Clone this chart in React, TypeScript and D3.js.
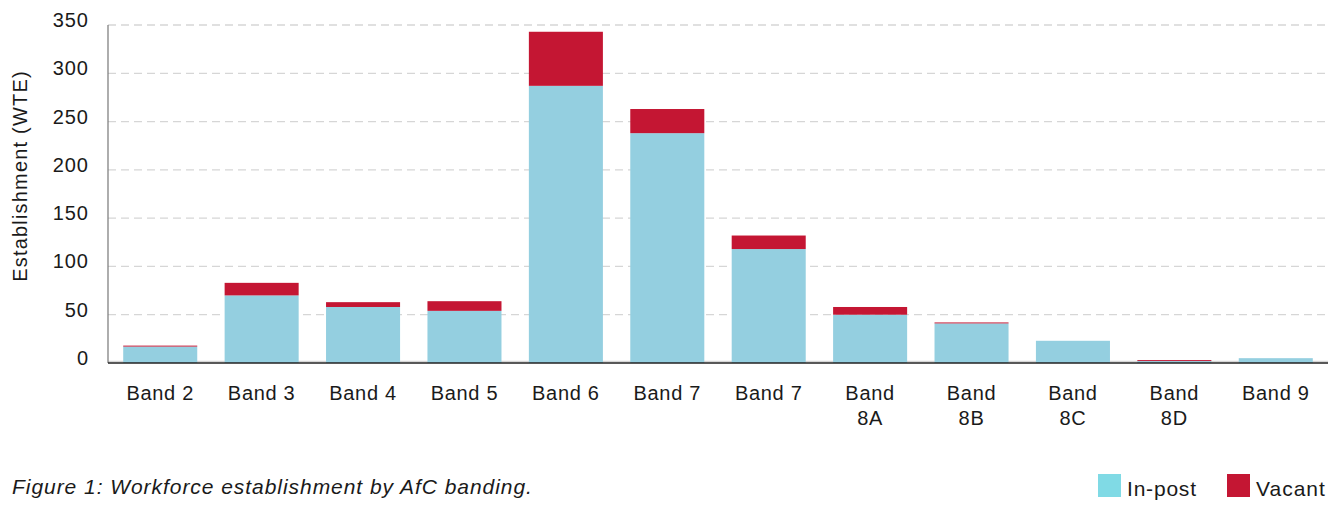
import React from "react";
import * as d3 from "d3";

const categories = ["Band 2", "Band 3", "Band 4", "Band 5", "Band 6", "Band 7", "Band 7", "Band 8A", "Band 8B", "Band 8C", "Band 8D", "Band 9"];
const inPost = [17, 70, 58, 54, 287, 238, 118, 50, 41, 23, 2, 5];
const vacant = [1, 13, 5, 10, 56, 25, 14, 8, 1, 0, 1, 0];
const yTicks = [0, 50, 100, 150, 200, 250, 300, 350];
const seriesNames = ["In-post", "Vacant"];

const W = 1343;
const H = 507;
const left = 108;
const right = 1328;
const top = 25;
const bottom = 363;
const FONT = "'Liberation Sans', Arial, sans-serif";

export default function App() {
  const x = d3.scaleBand<number>().domain(d3.range(categories.length)).range([left, right]).paddingInner(0.27).paddingOuter(0.15);
  const y = d3.scaleLinear().domain([0, 350]).range([bottom, top]);
  const bw = x.bandwidth();

  return (
    <svg width={W} height={H} style={{ position: "absolute", left: 0, top: 0, background: "#fff" }} fontFamily={FONT}>
      {yTicks.map((t) => (
        <g key={t}>
          {t > 0 && (
            <line x1={left} x2={right} y1={y(t)} y2={y(t)} stroke="#d6d6d6" strokeWidth={1.3} strokeDasharray="8 5" />
          )}
          <text x={89} y={y(t) + 2} textAnchor="end" fontSize={20} letterSpacing={1} fill="#1a1a1a">
            {t}
          </text>
        </g>
      ))}
      <line x1={left} x2={right} y1={bottom - 1.5} y2={bottom - 1.5} stroke="#d6d6d6" strokeWidth={1.3} />
      {categories.map((c, i) => {
        const x0 = x(i)!;
        const a = inPost[i];
        const b = vacant[i];
        return (
          <g key={i}>
            <rect x={x0} width={bw} y={y(a)} height={y(0) - y(a)} fill="#94cfe0" />
            {b > 0 && <rect x={x0} width={bw} y={y(a + b)} height={y(a) - y(a + b)} fill="#c41633" />}
          </g>
        );
      })}
      <line x1={left} x2={left} y1={top} y2={bottom} stroke="#777" strokeWidth={1.2} />
      <line x1={left} x2={right} y1={bottom} y2={bottom} stroke="#222" strokeWidth={1.5} />
      {categories.map((c, i) => {
        const cx = x(i)! + bw / 2;
        const parts = c.split(" ");
        const lines = parts[1].length > 1 ? [parts[0], parts[1]] : [c];
        return (
          <text key={i} x={cx} y={400} textAnchor="middle" fontSize={20} letterSpacing={0.7} fill="#1a1a1a">
            {lines.map((l, j) => (
              <tspan key={j} x={cx} dy={j === 0 ? 0 : 25}>
                {l}
              </tspan>
            ))}
          </text>
        );
      })}
      <text transform={`translate(27,176) rotate(-90)`} textAnchor="middle" fontSize={20} letterSpacing={1.2} fill="#1a1a1a">
        Establishment (WTE)
      </text>
      <text x={12} y={494} fontSize={21} fontStyle="italic" letterSpacing={0.95} fill="#1a1a1a">
        Figure 1: Workforce establishment by AfC banding.
      </text>
      <rect x={1098} y={474} width={23} height={23} fill="#80dae5" />
      <text x={1127} y={496} fontSize={21} letterSpacing={0.8} fill="#1a1a1a">
        {seriesNames[0]}
      </text>
      <rect x={1227} y={474} width={23} height={23} fill="#c41633" />
      <text x={1256} y={496} fontSize={21} letterSpacing={1} fill="#1a1a1a">
        {seriesNames[1]}
      </text>
    </svg>
  );
}
